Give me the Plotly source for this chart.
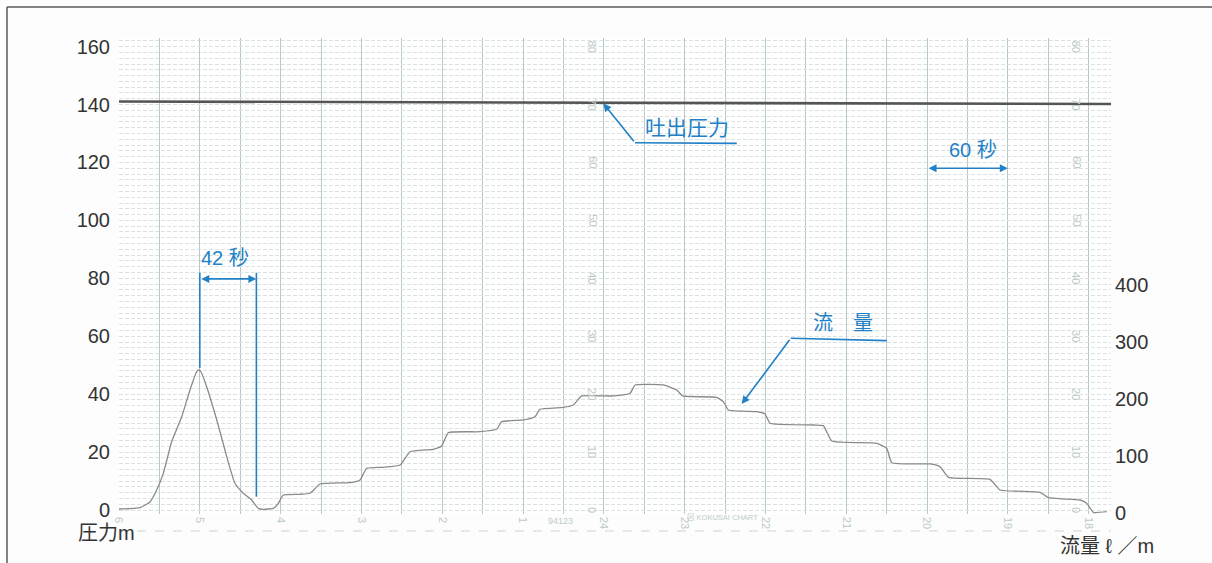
import plotly.graph_objects as go

# ---- recorded data -------------------------------------------------------
# time along the chart paper (seconds) and discharge pressure (m)
press_t = [0, 134.4, 283.0, 359.6, 505.9, 654.5, 736.7]
press_m = [141.06, 140.88, 140.88, 140.71, 140.54, 140.37, 140.19]

# flow trace: time (seconds) and flow (l/m)
flow_t = [0, 15.6, 23.0, 28.0, 32.9, 39.1, 46.6, 52.7, 57.7, 59.4, 60.9, 65.1,
          72.6, 80.0, 86.1, 92.3, 98.5, 103.4, 107.2, 114.6, 118.3, 122.0,
          134.4, 141.8, 149.3, 171.5, 179.0, 183.9, 196.3, 208.7, 216.1,
          233.4, 239.6, 244.5, 268.1, 280.5, 284.2, 300.2, 308.9, 312.6,
          329.9, 337.4, 343.6, 367.1, 379.5, 383.2, 404.2, 414.2, 418.6,
          443.8, 448.8, 452.5, 473.6, 479.7, 483.4, 515.6, 523.0, 529.3,
          562.7, 570.1, 573.8, 602.3, 609.7, 615.9, 646.8, 654.2, 683.9,
          690.1, 713.6, 718.6, 723.5, 733.4]
flow_lpm = [7.0, 9.6, 19.3, 40.4, 69.6, 125.1, 168.9, 215.8, 247.9, 250.9,
            247.4, 221.6, 163.2, 98.8, 52.1, 34.6, 22.8, 8.2, 6.5, 8.2, 17.0,
            31.6, 32.8, 34.6, 50.9, 53.2, 57.9, 78.4, 80.2, 84.2, 107.5,
            111.8, 117.5, 140.9, 142.6, 147.4, 160.2, 163.2, 168.9, 181.9,
            185.4, 189.5, 205.3, 205.3, 210.0, 224.6, 224.6, 215.8, 205.3,
            203.0, 195.3, 180.7, 177.7, 173.7, 157.4, 154.4, 153.2, 126.3,
            122.3, 113.5, 88.2, 86.0, 81.2, 62.6, 59.1, 40.4, 36.3, 26.8,
            22.8, 17.0, 1.2, 2.3]

# axis labels
press_ticks = [0, 20, 40, 60, 80, 100, 120, 140, 160]
flow_ticks = [0, 100, 200, 300, 400]
hour_ticks = [0, 60, 120, 180, 240, 300, 360, 420, 480, 540, 600, 660, 720]
hour_text = ["6", "5", "4", "3", "2", "1", "24", "23", "22", "21", "20", "19", "18"]
paper_scale_vals = [0, 20, 40, 60, 80, 100, 120, 140, 160]
paper_scale_text = ["0", "10", "20", "30", "40", "50", "60", "70", "80"]
paper_scale_cols = [351.3, 710.7]

BLUE = "#2281c6"
INK = "#333333"
PAPER_INK = "#bccbc8"
VGRID = "#b6cbc7"
HGRID = "#dbe2e1"

fig = go.Figure()

fig.add_trace(go.Scatter(
    x=flow_t, y=flow_lpm, mode="lines", yaxis="y2",
    line=dict(color="#8a8a8a", width=1.3, shape="spline", smoothing=0.4),
    name="流量", showlegend=False))

fig.add_trace(go.Scatter(
    x=press_t, y=press_m, mode="lines",
    line=dict(color="#555555", width=2.6), name="吐出圧力", showlegend=False))

shapes = []
annos = []

# 42 s interval marker
for xv, y0 in [(60, 49.0), (102, 4.6)]:
    shapes.append(dict(type="line", xref="x", yref="y", x0=xv, x1=xv,
                       y0=y0, y1=81.9, line=dict(color=BLUE, width=1.6)))
annos.append(dict(x=102, y=79.8, ax=60, ay=79.8, xref="x", yref="y",
                  axref="x", ayref="y", text="", showarrow=True,
                  arrowhead=2, arrowside="end+start", arrowsize=1.0,
                  arrowwidth=1.6, arrowcolor=BLUE))
annos.append(dict(x=78.7, y=87.0, xref="x", yref="y", text="42 秒",
                  showarrow=False, font=dict(size=20, color=BLUE)))

# 60 s interval marker
annos.append(dict(x=660, y=118.0, ax=600, ay=118.0, xref="x", yref="y",
                  axref="x", ayref="y", text="", showarrow=True,
                  arrowhead=2, arrowside="end+start", arrowsize=1.0,
                  arrowwidth=1.6, arrowcolor=BLUE))
annos.append(dict(x=634.4, y=124.3, xref="x", yref="y", text="60 秒",
                  showarrow=False, font=dict(size=20, color=BLUE)))

# discharge pressure callout
shapes.append(dict(type="line", xref="x", yref="y", x0=383.2, y0=126.8,
                   x1=458.7, y1=126.6, line=dict(color=BLUE, width=1.6)))
annos.append(dict(x=359.6, y=140.4, ax=383.2, ay=126.8, xref="x", yref="y",
                  axref="x", ayref="y", text="", showarrow=True,
                  arrowhead=2, arrowsize=1.0, arrowwidth=1.6, arrowcolor=BLUE))
annos.append(dict(x=421.5, y=132.0, xref="x", yref="y", text="吐出圧力",
                  showarrow=False, font=dict(size=21, color=BLUE)))

# flow callout
shapes.append(dict(type="line", xref="x", yref="y", x0=498.8, y0=59.3,
                   x1=570.1, y1=58.5, line=dict(color=BLUE, width=1.6)))
annos.append(dict(x=462.4, y=36.6, ax=498.8, ay=59.3, xref="x", yref="y",
                  axref="x", ayref="y", text="", showarrow=True,
                  arrowhead=2, arrowsize=1.0, arrowwidth=1.6, arrowcolor=BLUE))
annos.append(dict(x=537.7, y=64.5, xref="x", yref="y", text="流　量",
                  showarrow=False, font=dict(size=20, color=BLUE)))

# printed scale on the chart paper
for cx in paper_scale_cols:
    for v, t in zip(paper_scale_vals, paper_scale_text):
        annos.append(dict(x=cx, y=v, xref="x", yref="y", text=t,
                          textangle=90, showarrow=False,
                          font=dict(size=11, color=PAPER_INK)))

annos.append(dict(x=328, y=-0.0147, xref="x", yref="paper", text="94123",
                  showarrow=False, xanchor="center", yanchor="middle",
                  font=dict(size=9, color=PAPER_INK)))
annos.append(dict(x=447.8, y=-0.008, xref="x", yref="paper",
                  text="⊠ KOKUSAI CHART", showarrow=False,
                  xanchor="center", yanchor="middle",
                  font=dict(size=7.5, color=PAPER_INK)))

# axis titles
annos.append(dict(x=-0.0131, y=-0.040, xref="paper", yref="paper",
                  xanchor="center", yanchor="middle",
                  text="圧力m", showarrow=False,
                  font=dict(size=20, color=INK)))
annos.append(dict(x=0.996, y=-0.067, xref="paper", yref="paper",
                  xanchor="center", yanchor="middle",
                  text="流量 ℓ ／m", showarrow=False,
                  font=dict(size=20, color=INK)))

# dashed edge of the paper strip and the page frame
shapes.append(dict(type="line", xref="paper", yref="paper", x0=0, x1=1.0,
                   y0=-0.0357, y1=-0.0357,
                   line=dict(color="#cfd4d4", width=1, dash="dash")))
shapes.append(dict(type="line", xref="paper", yref="paper", x0=-0.1129,
                   x1=1.102, y0=1.0651, y1=1.0651,
                   line=dict(color="#5a5a5a", width=1.5)))
shapes.append(dict(type="line", xref="paper", yref="paper", x0=-0.1129,
                   x1=-0.1129, y0=1.0651, y1=-0.11,
                   line=dict(color="#5a5a5a", width=1.5)))

fig.update_layout(
    width=1212, height=563,
    margin=dict(l=119, r=101, t=38, b=49),
    paper_bgcolor="#fdfdfd", plot_bgcolor="#ffffff",
    font=dict(family="Liberation Sans, Noto Sans CJK JP, sans-serif",
              color=INK),
    shapes=shapes, annotations=annos,
    xaxis=dict(range=[0, 736.6], tickvals=hour_ticks, ticktext=hour_text,
               tickangle=90, tickfont=dict(size=11, color=PAPER_INK),
               showgrid=True, gridcolor=VGRID, gridwidth=1,
               minor=dict(dtick=30, tick0=0, showgrid=True,
                          gridcolor=VGRID, gridwidth=1),
               zeroline=False, showline=False, ticks="",
               ticklabelstandoff=2),
    yaxis=dict(range=[-1.381, 162.98], tickvals=press_ticks,
               tickfont=dict(size=20, color=INK),
               showgrid=True, gridcolor=HGRID, gridwidth=1,
               griddash="4px,2px",
               minor=dict(dtick=2, tick0=0, showgrid=True, gridcolor=HGRID,
                          gridwidth=1, griddash="4px,2px"),
               zeroline=False, showline=False, ticks="",
               ticklabelstandoff=8),
    yaxis2=dict(range=[-1.754, 833.3], overlaying="y", side="right",
                tickvals=flow_ticks, tickfont=dict(size=20, color=INK),
                showgrid=False, zeroline=False, showline=False, ticks="",
                ticklabelstandoff=3),
)

fig.write_html("out.html")
